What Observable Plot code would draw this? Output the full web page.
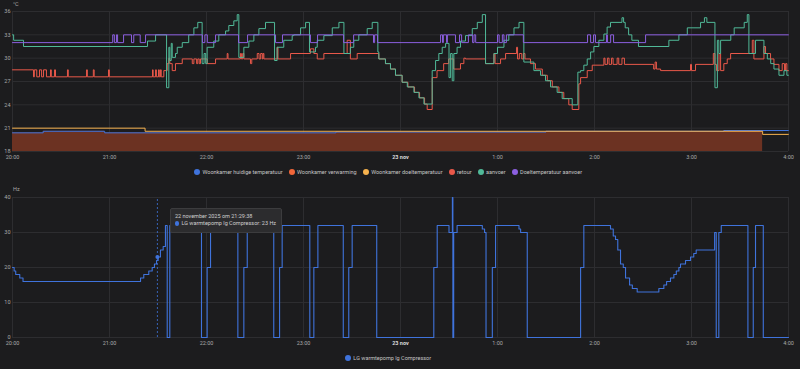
<!DOCTYPE html>
<html><head><meta charset="utf-8">
<script src="https://cdn.jsdelivr.net/npm/d3@7"></script>
<script src="https://cdn.jsdelivr.net/npm/@observablehq/plot@0.6"></script>
<style>
html,body{margin:0;padding:0;background:#1c1c1e;width:800px;height:369px;overflow:hidden;font-family:Roboto,sans-serif;}
#wrap{position:relative;width:800px;height:369px;}
.abs{position:absolute;left:0;}
.legend{position:absolute;left:0;width:776px;display:flex;justify-content:center;gap:6px;font-size:5.5px;color:#c4c4c4;height:8px;align-items:center;}
.item{display:flex;align-items:center;gap:2.5px;}
.sw{width:6px;height:6px;border-radius:50%;display:inline-block;}
.unit{position:absolute;font-size:5.5px;color:#a8a8a8;}
#tip{position:absolute;background:#2c2c2e;border:1px solid #3c3c3e;border-radius:2px;padding:4px 5px 4px 4px;font-size:5.5px;color:#cfcfcf;line-height:7.6px;white-space:nowrap;}
#tip .sw{width:4.5px;height:4.5px;margin-right:2px;vertical-align:-0.5px;}
</style></head>
<body><div id="wrap"></div>
<script>
// ---- time axis (minutes after 22 nov 2025 20:00) ----
const hourTicks = [0, 60, 120, 180, 240, 300, 360, 420, 480];
const tickLabels = ["20:00", "21:00", "22:00", "23:00", "23 nov", "1:00", "2:00", "3:00", "4:00"];
const tempTicks = [18, 21, 24, 27, 30, 33, 36];
const hzTicks = [0, 10, 20, 30, 40];

const seriesNames = ["Woonkamer huidige temperatuur", "Woonkamer verwarming", "Woonkamer doeltemperatuur", "retour", "aanvoer", "Doeltemperatuur aanvoer"];
const seriesColors = ["#3f73dc", "#f2673a", "#f6b24e", "#e9584a", "#50b998", "#8c5fe0"];
const compressorName = "LG warmtepomp lg Compressor";
const compressorColor = "#3f73dc";

// Woonkamer huidige temperatuur [minute, °C]
const currentTemp = [[0,20.4],[19,20.6],[57,20.4],[200,20.5],[330,20.6],[440,20.7],[480,20.7]];
// Woonkamer doeltemperatuur
const targetTemp = [[0,21.0],[82,20.6],[464,20.2],[480,20.2]];
// Woonkamer verwarming (heating active until)
const heatingEnd = 464;

// retour
const retour = [[0,28.5],[13,27.6],[13.5,28.5],[15,27.6],[16.7,28.5],[18,27.6],[19.2,28.5],[21,27.6],[23.5,28.5],[24,27.6],[26,28.5],[26.6,27.6],
[34,28.5],[34.5,27.6],[45.8,28.5],[46.3,27.6],[50,28.5],[50.5,27.6],[59.4,28.5],[59.9,27.6],
[86.6,28.5],[87,27.6],[88.5,28.5],[89,27.6],[90.3,28.5],[90.8,27.6],[91.5,28.5],[92,27.6],
[93.6,28.4],[95.7,29.3],[96.7,30],[97.3,29.3],[98.8,28.4],[100.8,29.3],[105,29.9],[111.2,29.3],[112.2,29.9],[113.9,29.3],[114.6,29.9],[115.5,29.3],[116.3,29.9],[120.4,29.3],[125.6,29.9],[132.8,30.6],[133.3,29.9],[141,30.6],[141.6,29.9],[142.4,30.6],[143.1,29.9],[147.2,29.3],[148,29.9],[151.4,30.6],[152.5,29.9],[153.5,30.6],[154.5,29.9],[155,30.6],[155.5,29.9],[163.7,31.4],[164.2,29.9],[172,30.6],
[184.3,31.2],[186.4,30.6],[188.5,29.9],[192.6,30.6],[207,32.3],[209,29.9],[213.2,30.6],[226.6,29.9],[230.7,29.3],[233.8,28.6],[236.9,27.8],[241,26.9],[244.6,26.3],[248.7,25.6],[251.8,24.9],[254.9,24.1],[256.5,23.4],[259.6,27.5],[262.6,28.4],[266.7,29.3],[269.8,29.9],[272.9,28.6],[277.1,29.3],[279.2,30],[280.2,29.9],
[292.6,29.3],[297.8,30.6],[298.5,29.3],[301.9,29.9],[305,30.6],[311.8,31.4],[312.4,29.9],[313.5,30.6],[315,29.9],[316,30.6],[317,29.9],[320.4,29.3],[323.5,28.6],[327.7,27.8],[330.8,27.1],[333.9,26.3],[338,25.6],[341,24.8],[344.1,24.0],[346.2,23.4],[350.3,26.7],[351.4,27.5],[355.5,28.4],[358.6,29.1],[365.8,30],[366.5,29.2],[368,30],[369,29.2],[370.5,30],[371.5,29.2],[374,30],[375,29.2],[377,30],[378.5,29.2],[396.6,28.6],[397.5,29.5],[398.3,28.6],[400.9,28.4],[419.4,29.2],[420,28.4],[422.5,29.2],[433.5,30.6],[434.5,29.2],[435.5,28.4],[437,30.6],[438,28.4],[440,29.3],[442.1,29.9],[444.2,30.6],[457.6,32.3],[458.6,29.9],[464.8,31.5],[465.8,30.6],[468.9,29.9],[471,29.2],[474.1,28.4],[476.1,29.3],[477.5,28.4],[478.2,29.3],[479,28.4],[480,28.4]];

// aanvoer
const aanvoer = [[0,33],[0.7,32.3],[6.8,31.5],[83.5,32.2],[88.5,33],[95.3,26.2],[96.7,31.4],[97.3,29.7],[98.2,31.9],[98.8,30.1],[100.8,30.6],[101.9,31.4],[105,32],[109,33],[112.2,33.9],[114.6,34.6],[117.3,29.3],[118.5,30.6],[119.5,29.3],[120.4,31.4],[124.5,32.2],[127.6,33],[131.8,33.5],[133.8,34.2],[136.9,34.8],[139,35.6],[140,30.1],[143.1,31.4],[146.2,32.2],[149.3,33],[152.4,33.8],[156.5,34.6],[162.1,29.7],[163.7,31.4],[167.8,32.3],[173,32.9],[174,33],[178.2,33.9],[181.3,34.6],[183.7,30.8],[187.4,31.4],[188.5,32.3],[192.6,32.9],[197.8,33.9],[201.9,34.6],[205,30.6],[209,31.4],[211.1,32.3],[214.2,33],[219.4,33.8],[222.5,34.6],[226,30.8],[226.6,29.9],[230.7,29.3],[233.8,28.6],[236.9,27.8],[241,26.9],[244.2,26.3],[248.3,25.6],[251.4,24.9],[254.5,24.1],[259.6,28.4],[261.7,29.7],[263.7,30.6],[265.8,31.4],[267.9,31.9],[270,27.5],[271,30.6],[272,27.1],[273,30.6],[275,31.4],[277.1,32.2],[280.2,32.9],[284.4,33.8],[287.5,34.6],[290.6,35.6],[292.6,29.3],[297.8,30.6],[300,31.4],[304,32.3],[307,33],[310.2,33.9],[313.3,34.6],[316.3,29.5],[322.5,28.4],[326.6,27.8],[329.7,27.1],[332.8,26.3],[336.9,25.6],[340,24.8],[346.2,24.0],[349.7,28.2],[351.4,28.4],[353.4,29.1],[355.5,29.9],[357.6,30.8],[359.6,31.5],[362.7,32.3],[365.8,33.1],[367.8,34],[369.9,34.6],[377,35.2],[378,34.6],[379,33.9],[381.1,33],[383.1,32.3],[387.2,31.5],[406,32.3],[412.2,33],[417.4,33.9],[425.6,34.6],[428,35.2],[429.5,34.6],[434.5,26.2],[436,32.3],[436.9,30.6],[438,32.3],[444.3,33],[446.4,33.9],[452.6,34.6],[454.5,35.6],[455.5,30.6],[459.6,32.3],[464.8,30.6],[466.9,29.9],[469,29.3],[471,28.6],[474.1,27.8],[477.2,28.4],[479,27.8],[480,27.8]];

// Doeltemperatuur aanvoer
const doelAanvoer = [[0,32],[62,33],[63,32],[64.3,33],[65,32],[68.7,33],[73.6,32],[75,33],[79,32],[82.3,33],
[117.5,32],[119,33],[120.5,32],[125.6,33],[139.8,32],[145.4,33],[162.7,32],[167,33],[184.3,32],[188.7,33],[204.8,32],[211,33],[223.3,32],[224,33],[225.8,32],
[264.8,33],[266,32],[266.5,33],[268.5,32],[269,33],[274,32],[276.5,33],[277.8,32],[282,33],[284.6,32],[285.5,33],[286.5,32],
[300,33],[301,32],[303,33],[304,32],[305.5,33],[316,32],[355.7,33],[357.6,32],[359.4,33],[360.6,32],[367.4,33],[368,32],[370,33],[371.8,32],[391.6,33],[480,33]];

// LG warmtepomp lg Compressor [minute, Hz]
const compressor = [[0,20],[1,19],[2,18],[4.5,17],[6.5,16],[79.2,17],[81.2,18],[84.3,19],[86.4,20],[87.8,21],[89.1,22],[90.1,23],[91.5,25],[93.2,26],[94.6,32],[95.7,0],[97.3,32],[116.9,0],[120.4,20],[122.5,32],[139.4,0],[143.1,20],[145.2,32],[161.6,0],[165.2,20],[166.8,32],[183.9,0],[186.4,20],[188.9,32],[204.6,0],[208,20],[210.1,32],[225.3,0],[260.6,20],[262.7,32],[270,30],[272.1,40],[272.4,0],[272.9,30],[275,32],[290.6,31],[292,30],[292.9,0],[296.8,20],[298.8,32],[313.3,31],[314.3,30],[318.4,0],[351.4,20],[353.4,32],[369.9,31],[371.6,29],[373,28],[374.4,25],[376.1,21],[377.8,20],[379.2,17],[381.7,15],[383.4,14],[386.4,13],[399.8,14],[402.9,15],[404.6,16],[407,17],[409.1,18],[410.6,19],[412.2,20],[413.2,21],[416.3,22],[419.4,23],[421.4,24],[422.9,25],[434.3,30],[435.3,0],[436.9,30],[438.4,32],[454.9,0],[458.2,20],[459.6,32],[464.4,0],[480,0]];

// tooltip
const tipTime = 89.63;
const tipValue = 23;
const tipDate = "22 november 2025 om 21:29:38";

const rows = arr => arr.map(([t, v]) => ({t, v}));
const heatRows = rows(currentTemp).filter(d => d.t <= heatingEnd).concat([{t: heatingEnd, v: currentTemp.filter(d => d[0] <= heatingEnd).slice(-1)[0][1]}]);

const fmt = d => tickLabels[hourTicks.indexOf(d)];
const gridColor = "#2d2d30";
const baseStyle = {background: "transparent", color: "#a9a9a9", fontSize: "5.5px", fontFamily: "Roboto, sans-serif", overflow: "visible"};

const lineOpts = (c, w = 1) => ({x: "t", y: "v", curve: "step-after", stroke: c, strokeWidth: w});

const topChart = Plot.plot({
  width: 800, height: 165,
  marginLeft: 12, marginRight: 12, marginTop: 11, marginBottom: 14,
  style: baseStyle,
  x: {domain: [0, 480], ticks: hourTicks, tickFormat: fmt, tickSize: 0, tickPadding: 4, label: null},
  y: {domain: [18, 36], ticks: tempTicks, tickSize: 0, tickPadding: 2, label: null},
  marks: [
    Plot.gridX(hourTicks, {stroke: gridColor, strokeOpacity: 1}),
    Plot.gridY(tempTicks, {stroke: gridColor, strokeOpacity: 1}),
    Plot.areaY(heatRows, {x: "t", y1: 18, y2: "v", curve: "step-after", fill: "#6c3222"}),
    Plot.line(rows(currentTemp), lineOpts(seriesColors[0])),
    Plot.line(rows(targetTemp), lineOpts(seriesColors[2])),
    Plot.line(rows(retour), lineOpts(seriesColors[3])),
    Plot.line(rows(aanvoer), lineOpts(seriesColors[4])),
    Plot.line(rows(doelAanvoer), lineOpts(seriesColors[5]))
  ]
});

const botChart = Plot.plot({
  width: 800, height: 167,
  marginLeft: 12, marginRight: 12, marginTop: 12, marginBottom: 15,
  style: baseStyle,
  x: {domain: [0, 480], ticks: hourTicks, tickFormat: fmt, tickSize: 0, tickPadding: 4, label: null},
  y: {domain: [0, 40], ticks: hzTicks, tickSize: 0, tickPadding: 2, label: null},
  marks: [
    Plot.gridX(hourTicks, {stroke: gridColor, strokeOpacity: 1}),
    Plot.gridY(hzTicks, {stroke: gridColor, strokeOpacity: 1}),
    Plot.line(rows(compressor), lineOpts(compressorColor, 1.1)),
    Plot.ruleX([tipTime], {y1: 0, y2: 40, stroke: compressorColor, strokeWidth: 0.8, strokeDasharray: "2,2"}),
    Plot.dot([{t: tipTime, v: tipValue}], {x: "t", y: "v", r: 2, fill: compressorColor})
  ]
});

for (const ch of [topChart, botChart]) {
  d3.select(ch).selectAll("text").filter(function(){ return this.textContent === "23 nov"; })
    .attr("font-weight", "bold").attr("fill", "#d8d8d8");
}

const wrap = document.getElementById("wrap");
topChart.classList.add("abs"); topChart.style.top = "0px";
botChart.classList.add("abs"); botChart.style.top = "185px";
wrap.appendChild(topChart);
wrap.appendChild(botChart);

function unit(txt, top) {
  const d = document.createElement("div");
  d.className = "unit"; d.textContent = txt; d.style.left = "13px"; d.style.top = top + "px";
  wrap.appendChild(d);
}
unit("°C", 1);
unit("Hz", 186);

function legend(names, colors, top) {
  const l = document.createElement("div");
  l.className = "legend"; l.style.top = top + "px";
  names.forEach((n, i) => {
    const it = document.createElement("div"); it.className = "item";
    const s = document.createElement("span"); s.className = "sw"; s.style.background = colors[i];
    const t = document.createElement("span"); t.textContent = n;
    it.appendChild(s); it.appendChild(t); l.appendChild(it);
  });
  wrap.appendChild(l);
}
legend(seriesNames, seriesColors, 168);
legend([compressorName], [compressorColor], 354);

// tooltip positioned from the bottom chart's scales
const sx = botChart.scale("x"), sy = botChart.scale("y");
const tip = document.createElement("div");
tip.id = "tip";
tip.style.left = (sx.apply(tipTime) + 13) + "px";
tip.style.top = (185 + sy.apply(tipValue) - 49) + "px";
const l1 = document.createElement("div"); l1.textContent = tipDate;
const l2 = document.createElement("div");
const dot = document.createElement("span"); dot.className = "sw"; dot.style.background = compressorColor;
l2.appendChild(dot);
l2.appendChild(document.createTextNode(compressorName + ": " + tipValue + " Hz"));
tip.appendChild(l1); tip.appendChild(l2);
wrap.appendChild(tip);
</script>
</body></html>
